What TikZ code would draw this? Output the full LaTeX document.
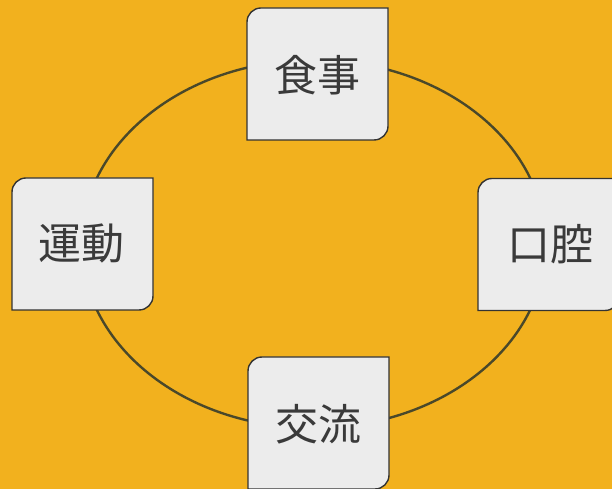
\documentclass[tikz,border=0pt]{standalone}
\usepackage{fontspec}
\usepackage{tikz}
\usepackage{xcolor}
\usetikzlibrary{backgrounds}
\newfontfamily\jpfont{Noto Sans CJK JP}
\definecolor{ringorange}{RGB}{242, 177, 30}
\definecolor{ringline}{RGB}{74, 72, 42}
\definecolor{boxgray}{RGB}{236, 236, 236}
\definecolor{textgray}{RGB}{58, 58, 58}

\begin{document}
\begin{tikzpicture}[
  x=1pt, y=1pt,
  ring/.style={
    draw=ringline,
    line width=2.4pt,
  },
  ringbox/.style={
    draw=black!80,
    fill=boxgray,
    line width=1.4pt,
  },
  ringlabel/.style={
    font=\jpfont\fontsize{43}{43}\selectfont,
    text=textgray,
    inner sep=0pt,
  }
]

  \useasboundingbox (0, 0) rectangle (612, 489);

  % === labels (boxes go behind them) ===
  \node[ringlabel] (meal)  at (317.5, 414) {食事};
  \node[ringlabel] (move)  at (81, 246)    {運動};
  \node[ringlabel] (mouth) at (550, 245)   {口腔};
  \node[ringlabel] (talk)  at (318, 65)    {交流};

  % background, ring and boxes, clipped to the page
  \begin{pgfonlayer}{background}
    \clip (0, 0) rectangle (612, 489);
    \fill[ringorange] (0, 0) rectangle (612, 489);
    \draw[ring] (313.5, 245) ellipse [x radius=232, y radius=184];
    \foreach \cx/\cy in {317.5/415, 82.5/245, 548.5/244.5, 318.5/66} {
      \draw[ringbox] (\cx-70.5, \cy+66-14) arc [start angle=180, end angle=90, radius=14]
        -- (\cx+70.5, \cy+66) -- (\cx+70.5, \cy-66+14)
        arc [start angle=0, end angle=-90, radius=14]
        -- (\cx-70.5, \cy-66) -- cycle;
    }
  \end{pgfonlayer}

\end{tikzpicture}
\end{document}
